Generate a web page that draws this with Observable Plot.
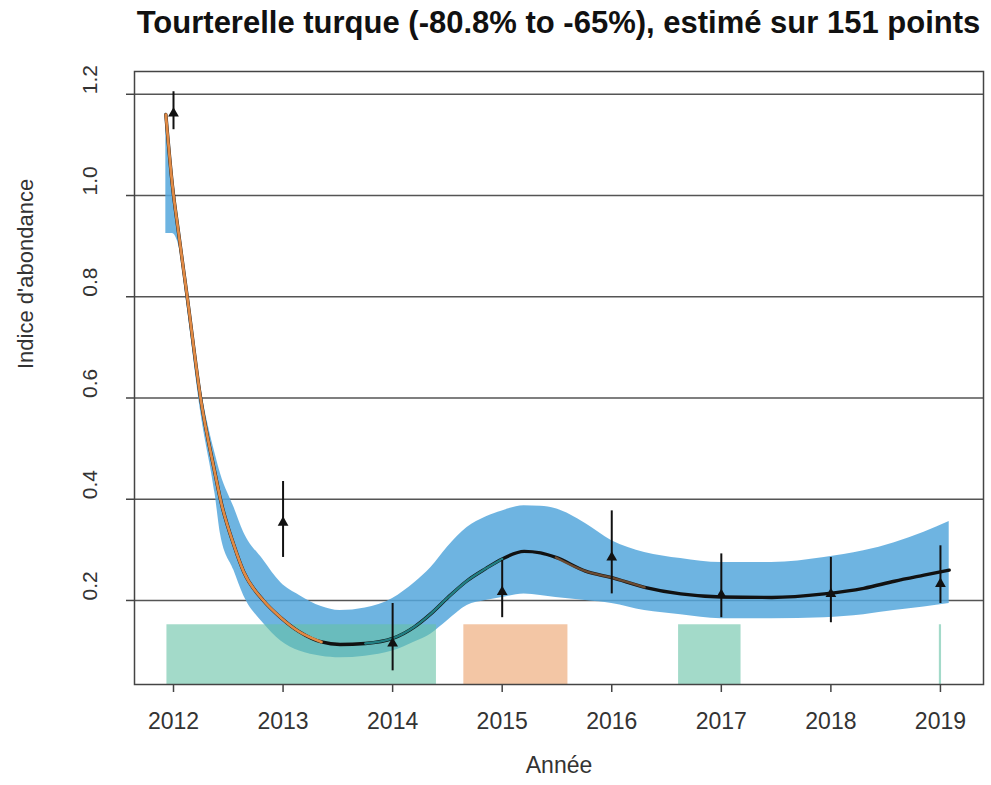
<!DOCTYPE html>
<html>
<head>
<meta charset="utf-8">
<script src="https://cdn.jsdelivr.net/npm/d3@7"></script>
<script src="https://cdn.jsdelivr.net/npm/@observablehq/plot@0.6"></script>
<style>
  body { margin: 0; background: #fff; font-family: "Liberation Sans", Arial, sans-serif; }
  #title { height: 56px; line-height: 46px; font-size: 31px; font-weight: bold; color: #111;
           padding-left: 134px; width: 849px; text-align: center; white-space: nowrap; }
</style>
</head>
<body>
<div id="title">Tourterelle turque (-80.8% to -65%), estimé sur 151 points</div>
<div id="chart"></div>
<script>
// yearly indices with error bars
const years = [2012, 2013, 2014, 2015, 2016, 2017, 2018, 2019];
const index = [1.162, 0.354, 0.115, 0.217, 0.285, 0.211, 0.213, 0.233];
const indexLow = [1.13, 0.285, 0.061, 0.166, 0.213, 0.166, 0.156, 0.194];
const indexHigh = [1.205, 0.435, 0.194, 0.279, 0.377, 0.292, 0.285, 0.308];

// smoothed trend and its confidence band
const fitYear = [2011.93, 2011.99, 2012.05, 2012.125, 2012.25, 2012.38, 2012.43, 2012.55, 2012.64, 2012.82, 2012.98, 2013.15, 2013.35, 2013.52, 2013.75, 2014.0, 2014.2, 2014.35, 2014.5, 2014.68, 2014.85, 2015.0, 2015.2, 2015.35, 2015.49, 2015.76, 2016.0, 2016.3, 2016.63, 2017.0, 2017.46, 2017.94, 2018.3, 2018.58, 2018.85, 2019.08];
const fitValue = [1.16, 1.02, 0.92, 0.8, 0.596, 0.45, 0.398, 0.31, 0.257, 0.2, 0.166, 0.138, 0.118, 0.113, 0.115, 0.125, 0.148, 0.174, 0.205, 0.239, 0.263, 0.282, 0.297, 0.294, 0.285, 0.258, 0.245, 0.226, 0.213, 0.207, 0.206, 0.213, 0.224, 0.238, 0.25, 0.26];
const bandHigh = [1.165, 1.04, 0.94, 0.82, 0.62, 0.49, 0.45, 0.385, 0.335, 0.28, 0.235, 0.21, 0.188, 0.18, 0.185, 0.204, 0.235, 0.265, 0.305, 0.344, 0.365, 0.377, 0.387, 0.386, 0.381, 0.352, 0.318, 0.295, 0.283, 0.275, 0.275, 0.285, 0.298, 0.314, 0.335, 0.356];
const bandLow = [0.925, 0.925, 0.9, 0.78, 0.57, 0.41, 0.33, 0.26, 0.21, 0.155, 0.12, 0.1, 0.09, 0.087, 0.09, 0.1, 0.118, 0.134, 0.16, 0.19, 0.2, 0.206, 0.213, 0.21, 0.206, 0.2, 0.194, 0.18, 0.172, 0.164, 0.164, 0.166, 0.172, 0.18, 0.187, 0.194];

// coloured trend segments
const segStart = [2011.93, 2013.75, 2015.49];
const segEnd = [2013.35, 2015.0, 2016.3];
const segColor = ["#e08a45", "#23868a", "#d9925a"];
const segOpacity = [1, 0.95, 0.45];
const segWidth = [2.8, 2.4, 2.4];

// shaded periods at the bottom
const periodStart = [2011.94, 2014.65, 2016.61, 2018.99];
const periodEnd = [2014.40, 2015.60, 2017.18, 2019.01];
const periodColor = ["#66c2a5", "#eba069", "#66c2a5", "#66c2a5"];
const periodBase = 0.034;
const periodTop = 0.152;

// axes
const yTicks = [0.2, 0.4, 0.6, 0.8, 1.0, 1.2];
const yTickLabels = ["0.2", "0.4", "0.6", "0.8", "1.0", "1.2"];
const xTicks = [2012, 2013, 2014, 2015, 2016, 2017, 2018, 2019];
const xTickLabels = ["2012", "2013", "2014", "2015", "2016", "2017", "2018", "2019"];
const xTitle = "Année";
const yTitle = "Indice d'abondance";

const points = years.map((y, i) => ({year: y, v: index[i], lo: indexLow[i], hi: indexHigh[i]}));
const fit = fitYear.map((y, i) => ({year: y, v: fitValue[i], lo: bandLow[i], hi: bandHigh[i]}));
const periods = periodStart.map((s, i) => ({x1: s, x2: periodEnd[i], c: periodColor[i]}));
const segMarks = segStart.map((s, i) =>
  Plot.line(fit.filter(d => d.year >= s - 1e-9 && d.year <= segEnd[i] + 1e-9),
    {x: "year", y: "v", stroke: segColor[i], strokeOpacity: segOpacity[i], strokeWidth: segWidth[i], curve: "monotone-x"}));

const chart = Plot.plot({
  width: 991,
  height: 729,
  marginLeft: 134,
  marginRight: 8,
  marginTop: 15,
  marginBottom: 101,
  style: {fontFamily: "'Liberation Sans', Arial, sans-serif", color: "#333", background: "#fff"},
  x: {domain: [2011.644, 2019.393], axis: null},
  y: {domain: [0.034, 1.245], axis: null},
  marks: [
    Plot.gridY(yTicks, {stroke: "#555", strokeOpacity: 1, strokeWidth: 1.5}),
    Plot.areaY(fit, {x: "year", y1: "lo", y2: "hi", fill: "#55a7dc", fillOpacity: 0.85, curve: "monotone-x"}),
    Plot.rectY(periods, {x1: "x1", x2: "x2", y1: periodBase, y2: periodTop, fill: "c", fillOpacity: 0.6}),
    Plot.line(fit, {x: "year", y: "v", stroke: "#111", strokeWidth: 3.4, curve: "monotone-x"}),
    ...segMarks,
    Plot.ruleX(points, {x: "year", y1: "lo", y2: "hi", stroke: "#111", strokeWidth: 2}),
    Plot.dot(points, {x: "year", y: "v", symbol: "triangle", r: 4, fill: "#111", stroke: null}),
    Plot.frame({stroke: "#444", strokeWidth: 1.5}),
    Plot.axisX({ticks: xTicks, tickSize: 8, tickFormat: () => "", label: null, stroke: "#444", strokeWidth: 1.5}),
    Plot.axisY({ticks: yTicks, tickSize: 8, tickFormat: () => "", label: null, stroke: "#444", strokeWidth: 1.5}),
    Plot.text(xTickLabels, {x: (d, i) => xTicks[i], text: d => d, frameAnchor: "bottom", dy: 44, fontSize: 23, fill: "#333"}),
    Plot.text(yTickLabels, {y: (d, i) => yTicks[i], text: d => d, frameAnchor: "left", dx: -44, rotate: -90, fontSize: 21, fill: "#333"}),
    Plot.text([xTitle], {text: d => d, frameAnchor: "bottom", dy: 88, fontSize: 23, fill: "#333"}),
    Plot.text([yTitle], {text: d => d, frameAnchor: "left", dx: -109, dy: -9, rotate: -90, fontSize: 22, fill: "#333"})
  ]
});
document.getElementById("chart").appendChild(chart);
</script>
</body>
</html>
